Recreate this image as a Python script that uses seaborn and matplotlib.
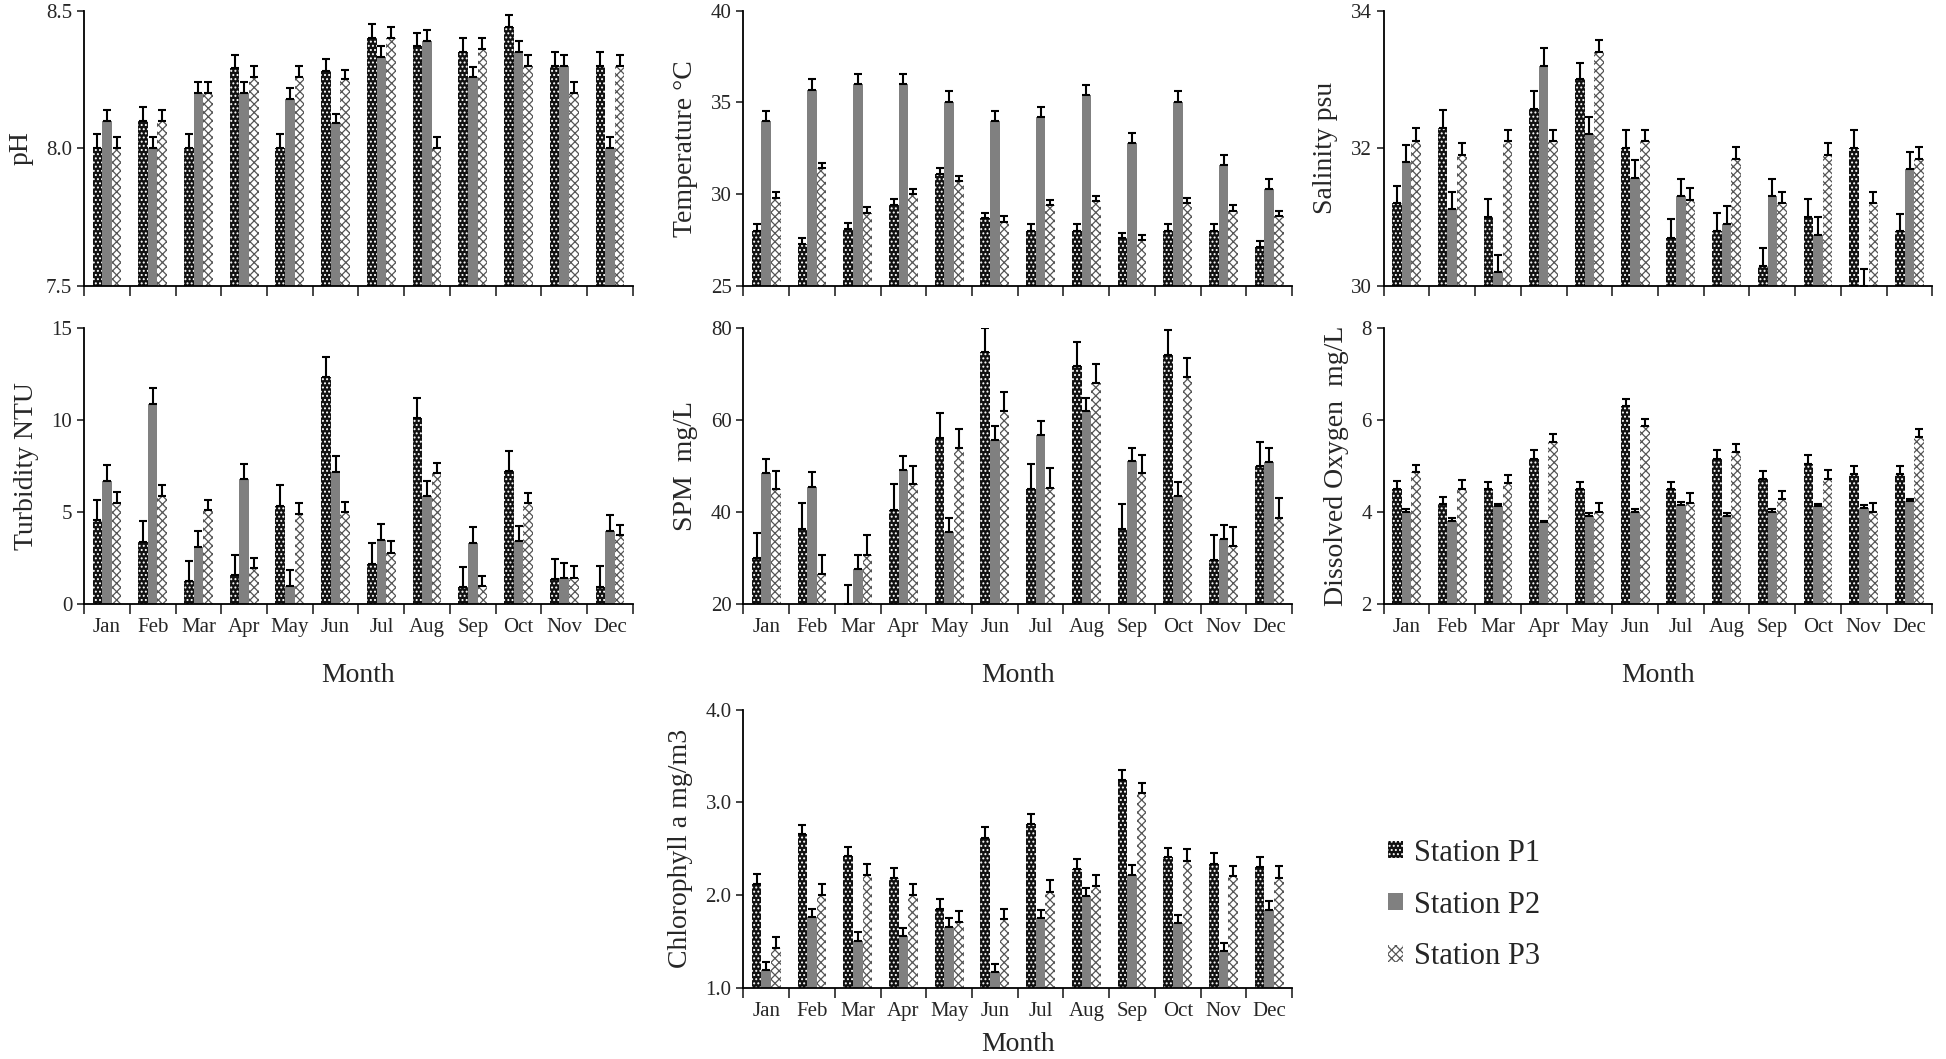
import numpy as np
import pandas as pd
import matplotlib
matplotlib.use("Agg")
import matplotlib.pyplot as plt
import matplotlib.patches as mpatches
import seaborn as sns

sns.set_style("ticks")
plt.rcParams['font.family'] = ['Liberation Serif', 'DejaVu Serif']
plt.rcParams['hatch.linewidth'] = 0.9

months = ["Jan", "Feb", "Mar", "Apr", "May", "Jun",
          "Jul", "Aug", "Sep", "Oct", "Nov", "Dec"]
stations = ["Station P1", "Station P2", "Station P3"]

# pH
ph_p1 = [8.00, 8.10, 8.00, 8.29, 8.00, 8.28, 8.40, 8.37, 8.35, 8.44, 8.30, 8.30]
ph_p2 = [8.10, 8.00, 8.20, 8.20, 8.18, 8.09, 8.33, 8.39, 8.26, 8.35, 8.30, 8.00]
ph_p3 = [8.00, 8.10, 8.20, 8.26, 8.26, 8.25, 8.40, 8.00, 8.36, 8.30, 8.20, 8.30]
ph_e1 = [0.05, 0.05, 0.05, 0.05, 0.05, 0.045, 0.05, 0.05, 0.05, 0.045, 0.05, 0.05]
ph_e2 = [0.04, 0.04, 0.04, 0.04, 0.04, 0.035, 0.04, 0.04, 0.035, 0.04, 0.04, 0.04]
ph_e3 = [0.04, 0.04, 0.04, 0.04, 0.04, 0.035, 0.04, 0.04, 0.04, 0.04, 0.04, 0.04]

# temperature
temp_p1 = [28.0, 27.3, 28.1, 29.4, 31.1, 28.7, 28.0, 28.0, 27.6, 28.0, 28.0, 27.1]
temp_p2 = [34.0, 35.7, 36.0, 36.0, 35.0, 34.0, 34.2, 35.4, 32.8, 35.0, 31.6, 30.3]
temp_p3 = [29.8, 31.4, 29.0, 30.0, 30.7, 28.5, 29.4, 29.6, 27.5, 29.5, 29.1, 28.8]
temp_e1 = [0.35, 0.33, 0.33, 0.33, 0.3, 0.3, 0.35, 0.35, 0.3, 0.35, 0.35, 0.35]
temp_e2 = [0.55, 0.55, 0.55, 0.55, 0.6, 0.55, 0.55, 0.55, 0.55, 0.6, 0.55, 0.55]
temp_e3 = [0.33, 0.27, 0.3, 0.3, 0.3, 0.3, 0.3, 0.3, 0.3, 0.3, 0.3, 0.3]

# salinity
sal_p1 = [31.2, 32.3, 31.0, 32.57, 33.0, 32.0, 30.7, 30.8, 30.29, 31.0, 32.0, 30.8]
sal_p2 = [31.8, 31.12, 30.2, 33.2, 32.2, 31.57, 31.3, 30.9, 31.3, 30.74, 30.0, 31.7]
sal_p3 = [32.11, 31.9, 32.1, 32.1, 33.4, 32.1, 31.25, 31.84, 31.2, 31.9, 31.2, 31.84]
sal_e1 = [0.25, 0.26, 0.26, 0.26, 0.24, 0.26, 0.27, 0.26, 0.26, 0.26, 0.26, 0.25]
sal_e2 = [0.25, 0.25, 0.25, 0.25, 0.25, 0.26, 0.25, 0.26, 0.25, 0.26, 0.25, 0.25]
sal_e3 = [0.19, 0.17, 0.16, 0.16, 0.17, 0.16, 0.17, 0.18, 0.16, 0.17, 0.16, 0.18]

# turbidity
turb_p1 = [4.54, 3.36, 1.22, 1.58, 5.3, 12.34, 2.18, 10.1, 0.89, 7.2, 1.34, 0.89]
turb_p2 = [6.7, 10.87, 3.09, 6.79, 0.98, 7.17, 3.48, 5.88, 3.3, 3.39, 1.4, 3.97]
turb_p3 = [5.5, 5.84, 5.12, 1.94, 4.9, 4.99, 2.76, 7.11, 0.94, 5.48, 1.4, 3.72]
turb_e1 = [1.1, 1.16, 1.1, 1.09, 1.18, 1.12, 1.12, 1.09, 1.09, 1.09, 1.11, 1.14]
turb_e2 = [0.84, 0.87, 0.85, 0.83, 0.83, 0.85, 0.85, 0.78, 0.85, 0.82, 0.82, 0.87]
turb_e3 = [0.56, 0.64, 0.54, 0.54, 0.58, 0.54, 0.64, 0.54, 0.54, 0.54, 0.64, 0.54]

# suspended particulate matter
spm_p1 = [30.0, 36.3, 20.0, 40.4, 56.1, 74.9, 45.0, 71.7, 36.3, 74.2, 29.5, 49.9]
spm_p2 = [48.4, 45.5, 27.6, 49.1, 35.6, 55.6, 56.8, 61.9, 51.0, 43.5, 34.0, 50.9]
spm_p3 = [44.9, 26.5, 30.7, 46.0, 54.0, 62.0, 45.3, 68.1, 48.4, 69.3, 32.5, 38.7]
spm_e1 = [5.5, 5.7, 4.0, 5.6, 5.5, 5.1, 5.5, 5.4, 5.5, 5.5, 5.4, 5.4]
spm_e2 = [3.1, 3.1, 3.1, 3.1, 3.0, 3.0, 3.0, 3.0, 3.0, 3.0, 3.1, 3.0]
spm_e3 = [4.0, 4.1, 4.2, 4.1, 4.0, 4.2, 4.2, 4.2, 4.0, 4.2, 4.2, 4.4]

# dissolved oxygen
do_p1 = [4.49, 4.18, 4.49, 5.16, 4.49, 6.31, 4.49, 5.16, 4.72, 5.05, 4.83, 4.83]
do_p2 = [4.0, 3.8, 4.12, 3.77, 3.92, 4.0, 4.16, 3.92, 4.0, 4.13, 4.09, 4.23]
do_p3 = [4.86, 4.49, 4.63, 5.52, 4.0, 5.86, 4.2, 5.3, 4.29, 4.72, 4.0, 5.64]
do_e1 = [0.18, 0.15, 0.17, 0.18, 0.16, 0.15, 0.16, 0.18, 0.17, 0.18, 0.16, 0.16]
do_e2 = [0.06, 0.07, 0.06, 0.04, 0.05, 0.06, 0.06, 0.05, 0.06, 0.05, 0.06, 0.06]
do_e3 = [0.17, 0.2, 0.18, 0.18, 0.19, 0.17, 0.2, 0.18, 0.17, 0.19, 0.19, 0.17]

# chlorophyll a
chl_p1 = [2.12, 2.66, 2.42, 2.18, 1.85, 2.62, 2.77, 2.28, 3.24, 2.41, 2.34, 2.30]
chl_p2 = [1.19, 1.76, 1.51, 1.56, 1.66, 1.17, 1.75, 1.99, 2.22, 1.70, 1.40, 1.84]
chl_p3 = [1.43, 2.00, 2.22, 2.00, 1.71, 1.74, 2.03, 2.10, 3.10, 2.37, 2.21, 2.18]
chl_e1 = [0.11, 0.10, 0.10, 0.11, 0.11, 0.11, 0.11, 0.11, 0.11, 0.10, 0.11, 0.11]
chl_e2 = [0.09, 0.09, 0.09, 0.09, 0.09, 0.09, 0.09, 0.09, 0.10, 0.09, 0.09, 0.10]
chl_e3 = [0.12, 0.12, 0.12, 0.12, 0.12, 0.11, 0.13, 0.12, 0.11, 0.13, 0.10, 0.13]

# bar styles: P1 black with white dots, P2 plain grey, P3 white with grey zigzag
face = ["#111111", "#808080", "#ffffff"]
hatch_col = ["#ffffff", "#808080", "#555555"]
hatches = ["....", None, "xxxx"]


def panel(ax, p1, p2, p3, e1, e2, e3, ylim, yticks, ylabel, fmt,
          show_months, month_pad=19):
    df = pd.DataFrame({
        "Month": months * 3,
        "Station": [s for s in stations for _ in months],
        "value": p1 + p2 + p3,
    })
    sns.barplot(data=df, x="Month", y="value", hue="Station", order=months,
                hue_order=stations, palette=face, saturation=1, width=0.63,
                errorbar=None, legend=False, ax=ax)
    errs = [e1, e2, e3]
    bar_sets = list(ax.containers)[:3]
    for i, cont in enumerate(bar_sets):
        xs, ys = [], []
        for bar in cont:
            bar.set_facecolor(face[i])
            bar.set_edgecolor(hatch_col[i])
            bar.set_linewidth(0)
            if hatches[i]:
                bar.set_hatch(hatches[i])
            xs.append(bar.get_x() + bar.get_width() / 2)
            ys.append(bar.get_height())
        ax.errorbar(xs, ys, yerr=[np.zeros(len(xs)), errs[i]], fmt="none",
                    ecolor="black", elinewidth=1.5, capsize=2.6, capthick=1.5)
    ax.set_xlim(-0.5, 11.5)
    ax.set_ylim(*ylim)
    ax.set_yticks(yticks)
    ax.set_yticklabels([fmt.format(t) for t in yticks])
    ax.set_xticks(np.arange(-0.5, 12, 1), minor=True)
    ax.tick_params(axis="x", which="major", length=0, pad=10, labelsize=15)
    ax.tick_params(axis="x", which="minor", length=7, width=1.2, direction="out")
    ax.tick_params(axis="y", length=5, width=1.2, direction="out", labelsize=15)
    ax.set_ylabel(ylabel, fontsize=20, labelpad=9)
    if show_months:
        ax.set_xlabel("Month", fontsize=20, labelpad=month_pad)
    else:
        ax.set_xticklabels([])
        ax.set_xlabel("")
    sns.despine(ax=ax)
    for sp in ["left", "bottom"]:
        ax.spines[sp].set_linewidth(1.3)
        ax.spines[sp].set_color("black")


fig = plt.figure(figsize=(19.46, 10.59), dpi=100)

col_left = [0.0432, 0.382, 0.711]
w = 0.282
h = 0.260
row1_b = 0.730
row2_b = 0.430

ax1 = fig.add_axes([col_left[0], row1_b, w, h])
panel(ax1, ph_p1, ph_p2, ph_p3, ph_e1, ph_e2, ph_e3, (7.5, 8.5), [7.5, 8.0, 8.5],
      "pH", "{:.1f}", False)
ax2 = fig.add_axes([col_left[1], row1_b, w, h])
panel(ax2, temp_p1, temp_p2, temp_p3, temp_e1, temp_e2, temp_e3, (25, 40), [25, 30, 35, 40],
      "Temperature \u00b0C", "{:.0f}", False)
ax3 = fig.add_axes([col_left[2], row1_b, w, h])
panel(ax3, sal_p1, sal_p2, sal_p3, sal_e1, sal_e2, sal_e3, (30, 34), [30, 32, 34],
      "Salinity psu", "{:.0f}", False)

ax4 = fig.add_axes([col_left[0], row2_b, w, h])
panel(ax4, turb_p1, turb_p2, turb_p3, turb_e1, turb_e2, turb_e3, (0, 15), [0, 5, 10, 15],
      "Turbidity NTU", "{:.0f}", True)
ax5 = fig.add_axes([col_left[1], row2_b, w, h])
panel(ax5, spm_p1, spm_p2, spm_p3, spm_e1, spm_e2, spm_e3, (20, 80), [20, 40, 60, 80],
      "SPM  mg/L", "{:.0f}", True)
ax6 = fig.add_axes([col_left[2], row2_b, w, h])
panel(ax6, do_p1, do_p2, do_p3, do_e1, do_e2, do_e3, (2, 8), [2, 4, 6, 8],
      "Dissolved Oxygen  mg/L", "{:.0f}", True)

ax7 = fig.add_axes([col_left[1], 0.067, w, 0.263])
panel(ax7, chl_p1, chl_p2, chl_p3, chl_e1, chl_e2, chl_e3, (1.0, 4.0), [1.0, 2.0, 3.0, 4.0],
      "Chlorophyll a mg/m3", "{:.1f}", True, month_pad=8)

handles = []
for i in range(3):
    handles.append(mpatches.Patch(facecolor=face[i], edgecolor=hatch_col[i],
                                  hatch=hatches[i], linewidth=0))
fig.legend(handles, stations, loc="center left", bbox_to_anchor=(0.7133, 0.1454),
           frameon=False, fontsize=22, handlelength=0.5, handleheight=0.5,
           handletextpad=0.35, labelspacing=0.75, borderpad=0, borderaxespad=0)

fig.savefig("out.png", dpi=100)
